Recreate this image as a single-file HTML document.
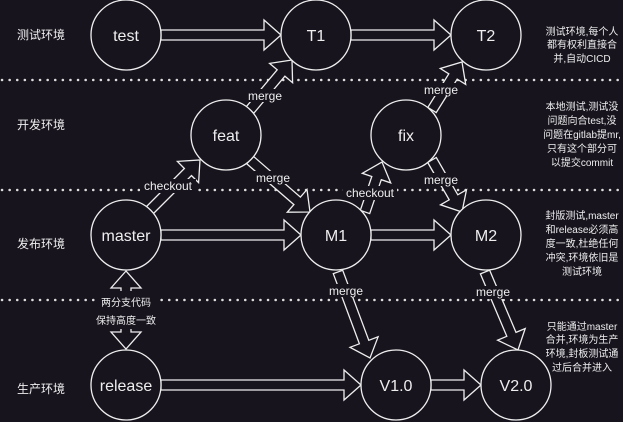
<!DOCTYPE html>
<html><head><meta charset="utf-8"><style>
html,body{margin:0;padding:0;background:#17141d;}
svg{display:block}
text{font-family:"Liberation Sans","Noto Sans CJK SC",sans-serif;fill:#eee;}
</style></head><body>
<svg id="s" width="623" height="422" viewBox="0 0 623 422" xmlns="http://www.w3.org/2000/svg">
<rect width="623" height="422" fill="#17141d"/>
<g stroke="#ddd" stroke-width="2.5" stroke-dasharray="0.1 7.5" stroke-linecap="round">
<line x1="2" y1="80" x2="623" y2="80"/><line x1="2" y1="190" x2="623" y2="190"/><line x1="2" y1="300" x2="623" y2="300"/>
</g>
<g id="arrows" fill="#17141d" stroke="#eee" stroke-width="1.3"></g>
<g fill="#17141d" stroke="#eee" stroke-width="1.3">
<circle cx="126" cy="35" r="35"/><circle cx="316" cy="35" r="35"/><circle cx="486" cy="35" r="35"/>
<circle cx="226" cy="135" r="35"/><circle cx="406" cy="135" r="35"/>
<circle cx="126" cy="235" r="35"/><circle cx="336" cy="235" r="35"/><circle cx="486" cy="235" r="35"/>
<circle cx="126" cy="385" r="35"/><circle cx="396" cy="385" r="35"/><circle cx="516" cy="385" r="35"/>
</g>
<g font-size="16" text-anchor="middle">
<text x="126" y="41">test</text><text x="316" y="41">T1</text><text x="486" y="41">T2</text>
<text x="226" y="141">feat</text><text x="406" y="141">fix</text>
<text x="126" y="241">master</text><text x="336" y="241">M1</text><text x="486" y="241">M2</text>
<text x="126" y="391">release</text><text x="396" y="391">V1.0</text><text x="516" y="391">V2.0</text>
</g>
<g font-size="12">
<text x="17" y="39">测试环境</text><text x="17" y="129">开发环境</text><text x="17" y="248">发布环境</text><text x="17" y="393">生产环境</text>
</g>
<g font-size="12" text-anchor="middle" id="lbl">
<rect x="244" y="89" width="42" height="13" fill="#17141d"/><text x="265" y="100">merge</text>
<rect x="420" y="83" width="42" height="13" fill="#17141d"/><text x="441" y="94">merge</text>
<rect x="140" y="179" width="56" height="14" fill="#17141d"/><text x="168" y="190">checkout</text>
<rect x="252" y="171" width="42" height="13" fill="#17141d"/><text x="273" y="182">merge</text>
<rect x="343" y="186" width="54" height="14" fill="#17141d"/><text x="370" y="197">checkout</text>
<rect x="420" y="173" width="42" height="13" fill="#17141d"/><text x="441" y="184">merge</text>
<rect x="325" y="284" width="42" height="13" fill="#17141d"/><text x="346" y="295">merge</text>
<rect x="472" y="286" width="42" height="13" fill="#17141d"/><text x="493" y="296">merge</text>
</g>
<g font-size="10" text-anchor="middle">
<rect x="96" y="291" width="60" height="38" fill="#17141d"/>
<text x="126" y="306">两分支代码</text><text x="126" y="324">保持高度一致</text>
</g>
<g font-size="10" text-anchor="middle">
<text x="582" y="35">测试环境,每个人</text><text x="582" y="48">都有权利直接合</text><text x="582" y="62">并,自动CICD</text>
<text x="582" y="110">本地测试,测试没</text><text x="582" y="124">问题向合test,没</text><text x="582" y="138">问题在gitlab提mr,</text><text x="582" y="152">只有这个部分可</text><text x="582" y="166">以提交commit</text>
<text x="582" y="219">封版测试,master</text><text x="582" y="233">和release必须高</text><text x="582" y="247">度一致,杜绝任何</text><text x="582" y="261">冲突,环境依旧是</text><text x="582" y="275">测试环境</text>
<text x="582" y="330">只能通过master</text><text x="582" y="343">合并,环境为生产</text><text x="582" y="357">环境,封板测试通</text><text x="582" y="371">过后合并进入</text>
</g>
<script>
(function(){
var g=document.getElementById('arrows');
function arrow(x1,y1,x2,y2,dbl){
 var dx=x2-x1,dy=y2-y1,L=Math.hypot(dx,dy),ux=dx/L,uy=dy/L,nx=-uy,ny=ux;
 var sw=5,hw=15,hl=17;
 function P(t,o){return (x1+ux*t+nx*o).toFixed(1)+','+(y1+uy*t+ny*o).toFixed(1);}
 var pts=[];
 if(dbl){pts.push(P(0,0),P(hl,hw),P(hl,sw));}else{pts.push(P(0,sw));}
 pts.push(P(L-hl,sw),P(L-hl,hw),P(L,0),P(L-hl,-hw),P(L-hl,-sw));
 if(dbl){pts.push(P(hl,-sw),P(hl,-hw));}else{pts.push(P(0,-sw));}
 var p=document.createElementNS('http://www.w3.org/2000/svg','polygon');
 p.setAttribute('points',pts.join(' '));g.appendChild(p);
}
arrow(161,35,281,35);arrow(351,35,451,35);
arrow(161,235,301,235);arrow(371,235,451,235);
arrow(161,385,361,385);arrow(431,385,481,385);
arrow(250,110,292,60);arrow(432,110,462,62);
arrow(150,210,200,160);arrow(250,160,310,212);
arrow(365,212,382,162);arrow(432,160,462,212);
arrow(338,272,370,358);arrow(485,272,518,350);
arrow(126,271,126,349,true);
})();
</script>
</svg>
</body></html>
